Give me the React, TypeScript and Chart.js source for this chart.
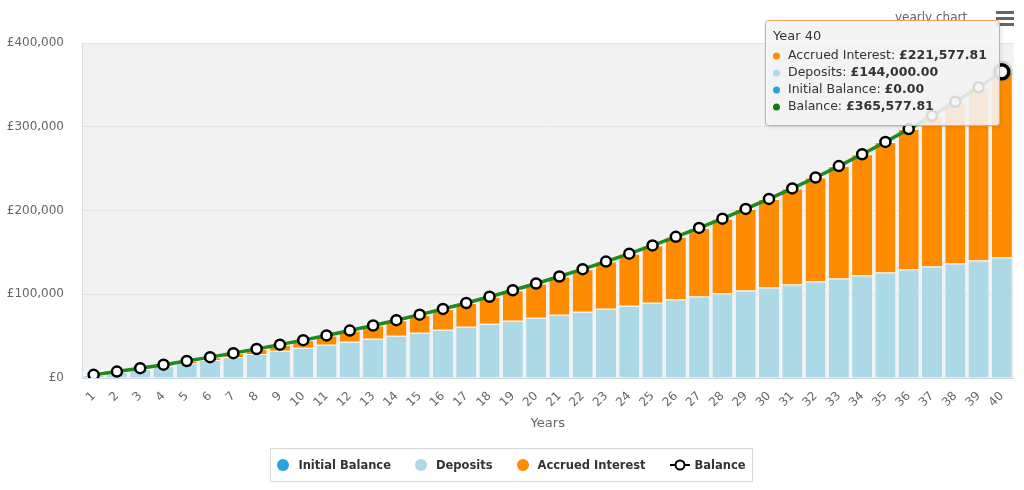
import { useEffect, useRef } from "react";
import { Chart, registerables } from "chart.js";

Chart.register(...registerables);

const YEARS = [
  "1", "2", "3", "4", "5", "6", "7", "8", "9", "10",
  "11", "12", "13", "14", "15", "16", "17", "18", "19", "20",
  "21", "22", "23", "24", "25", "26", "27", "28", "29", "30",
  "31", "32", "33", "34", "35", "36", "37", "38", "39", "40",
];

const INITIAL_BALANCE = [
  0, 0, 0, 0, 0, 0, 0, 0, 0, 0,
  0, 0, 0, 0, 0, 0, 0, 0, 0, 0,
  0, 0, 0, 0, 0, 0, 0, 0, 0, 0,
  0, 0, 0, 0, 0, 0, 0, 0, 0, 0,
];

const DEPOSITS = [
  3600, 7200, 10800, 14400, 18000, 21600, 25200, 28800, 32400, 36000,
  39600, 43200, 46800, 50400, 54000, 57600, 61200, 64800, 68400, 72000,
  75600, 79200, 82800, 86400, 90000, 93600, 97200, 100800, 104400, 108000,
  111600, 115200, 118800, 122400, 126000, 129600, 133200, 136800, 140400, 144000,
];

const BALANCE = [
  3750, 7650, 11710, 15940, 20340, 24920, 29690, 34660, 39830, 45210,
  50820, 56650, 62720, 69040, 75620, 82470, 89600, 97030, 104760, 112810,
  121190, 129910, 138990, 148440, 158280, 168520, 179190, 190290, 201850, 213880,
  226410, 239450, 253030, 267170, 281880, 297200, 313150, 329760, 347050, 365577.81,
];

const Y_TICKS = [0, 100000, 200000, 300000, 400000];

// year shown in the tooltip
const HOVER_INDEX = 39;

const ACCRUED = BALANCE.map((b, i) => b - DEPOSITS[i] - INITIAL_BALANCE[i]);

const FONT = "'DejaVu Sans', sans-serif";
const COL_INITIAL = "#27a3dd";
const COL_DEPOSITS = "#add8e6";
const COL_INTEREST = "#ff8c00";
const COL_LINE = "#1f8a1f";

const money = (v: number, dec = 0) =>
  "£" + v.toLocaleString("en-GB", { minimumFractionDigits: dec, maximumFractionDigits: dec });

const decorPlugin = {
  id: "decor",
  beforeDraw(chart: any) {
    const { ctx, chartArea: a } = chart;
    ctx.save();
    ctx.fillStyle = "#f2f2f2";
    ctx.fillRect(a.left, a.top, a.right - a.left, a.bottom - a.top);
    ctx.restore();
  },
  beforeDatasetDraw(chart: any, args: any) {
    if (args.meta.type !== "line") return;
    const pt = args.meta.data[HOVER_INDEX];
    if (!pt) return;
    const { ctx } = chart;
    ctx.save();
    ctx.fillStyle = "rgba(110,150,110,0.28)";
    ctx.beginPath();
    ctx.arc(pt.x, pt.y, 11, 0, Math.PI * 2);
    ctx.fill();
    ctx.restore();
  },
  afterDraw(chart: any) {
    const { ctx } = chart;
    ctx.save();

    // export menu
    ctx.fillStyle = "#666";
    ctx.font = `12px ${FONT}`;
    ctx.textBaseline = "middle";
    ctx.fillText("yearly chart", 895, 18);
    ctx.fillRect(996, 11, 18, 3);
    ctx.fillRect(996, 17, 18, 3);
    ctx.fillRect(996, 23, 18, 3);

    // tooltip
    const x = 765.5, y = 20.5, w = 234, h = 105;
    ctx.shadowColor = "rgba(0,0,0,0.15)";
    ctx.shadowBlur = 4;
    ctx.shadowOffsetX = 1;
    ctx.shadowOffsetY = 1;
    ctx.fillStyle = "rgba(248,248,248,0.87)";
    ctx.beginPath();
    ctx.roundRect(x, y, w, h, 3);
    ctx.fill();
    ctx.shadowColor = "transparent";
    ctx.strokeStyle = "#f4a55a";
    ctx.lineWidth = 1;
    ctx.stroke();

    ctx.fillStyle = "#333";
    ctx.font = `13px ${FONT}`;
    ctx.fillText("Year " + YEARS[HOVER_INDEX], 773, 37);

    const rows = [
      { color: COL_INTEREST, label: "Accrued Interest", value: ACCRUED[HOVER_INDEX] },
      { color: COL_DEPOSITS, label: "Deposits", value: DEPOSITS[HOVER_INDEX] },
      { color: COL_INITIAL, label: "Initial Balance", value: INITIAL_BALANCE[HOVER_INDEX] },
      { color: "#0d7d0d", label: "Balance", value: BALANCE[HOVER_INDEX] },
    ];
    rows.forEach((r, i) => {
      const ry = 56 + i * 17;
      ctx.fillStyle = r.color;
      ctx.beginPath();
      ctx.arc(776.5, ry, 3.5, 0, Math.PI * 2);
      ctx.fill();
      ctx.fillStyle = "#333";
      ctx.font = `12.5px ${FONT}`;
      const lbl = r.label + ": ";
      ctx.fillText(lbl, 788, ry);
      const lw = ctx.measureText(lbl).width;
      ctx.font = `bold 12.5px ${FONT}`;
      ctx.fillText(money(r.value, 2), 788 + lw, ry);
    });

    ctx.restore();
  },
};

function LegendItem({ color, label }: { color: string; label: string }) {
  return (
    <div style={{ display: "flex", alignItems: "center" }}>
      <span
        style={{
          width: 12,
          height: 12,
          borderRadius: "50%",
          background: color,
          marginRight: 9,
          display: "inline-block",
        }}
      />
      <span>{label}</span>
    </div>
  );
}

export default function App() {
  const canvasRef = useRef<HTMLCanvasElement>(null);
  const chartRef = useRef<Chart | null>(null);

  useEffect(() => {
    if (!canvasRef.current) return;
    const ctx = canvasRef.current.getContext("2d");
    if (!ctx) return;

    const radii = YEARS.map((_, i) => (i === HOVER_INDEX ? 7 : 5));
    const borders = YEARS.map((_, i) => (i === HOVER_INDEX ? 3.5 : 2.5));

    chartRef.current = new Chart(ctx, {
      type: "bar",
      data: {
        labels: YEARS,
        datasets: [
          {
            type: "line",
            label: "Balance",
            data: BALANCE,
            borderColor: COL_LINE,
            borderWidth: 3.5,
            pointRadius: radii,
            pointBorderWidth: borders,
            pointBackgroundColor: "#fff",
            pointBorderColor: "#000",
            order: 0,
            stack: "balance",
          } as any,
          {
            label: "Initial Balance",
            data: INITIAL_BALANCE,
            backgroundColor: COL_INITIAL,
            borderWidth: 0,
            order: 1,
            stack: "bars",
          },
          {
            label: "Deposits",
            data: DEPOSITS,
            backgroundColor: COL_DEPOSITS,
            borderColor: "#fff",
            borderWidth: { top: 1, left: 0, right: 0, bottom: 0 },
            order: 1,
            stack: "bars",
          },
          {
            label: "Accrued Interest",
            data: ACCRUED,
            backgroundColor: COL_INTEREST,
            borderColor: "#fff",
            borderWidth: { top: 1, left: 0, right: 0, bottom: 0 },
            order: 1,
            stack: "bars",
          },
        ],
      },
      options: {
        animation: false,
        responsive: true,
        maintainAspectRatio: false,
        events: [],
        layout: { padding: { left: 0, right: 8.5, top: 43, bottom: 58 } },
        datasets: { bar: { barPercentage: 0.86, categoryPercentage: 1 } },
        plugins: {
          legend: { display: false },
          tooltip: { enabled: false },
        },
        scales: {
          x: {
            stacked: true,
            grid: { display: false },
            border: { color: "#ccd6eb" },
            ticks: {
              autoSkip: false,
              minRotation: 45,
              maxRotation: 45,
              padding: 3,
              color: "#666",
              font: { family: FONT, size: 12 },
            },
            title: {
              display: true,
              text: "Years",
              color: "#666",
              padding: { top: 0, bottom: 1 },
              font: { family: FONT, size: 13 },
            },
            afterFit: (s: any) => {
              s.height = 54;
            },
          },
          y: {
            stacked: true,
            min: Y_TICKS[0],
            max: Y_TICKS[Y_TICKS.length - 1],
            afterBuildTicks: (s: any) => {
              s.ticks = Y_TICKS.map((v) => ({ value: v }));
            },
            grid: { color: "#e4e4e4", drawTicks: false },
            border: { color: "#dcdcdc" },
            ticks: {
              padding: 18,
              color: "#666",
              font: { family: FONT, size: 12 },
              callback: (v: any) => money(Number(v)),
            },
            afterFit: (s: any) => {
              s.width = 82;
            },
          },
        },
      },
      plugins: [decorPlugin],
    });

    return () => {
      if (chartRef.current) {
        chartRef.current.destroy();
        chartRef.current = null;
      }
    };
  }, []);

  return (
    <div
      style={{
        position: "fixed",
        left: 0,
        top: 0,
        width: 1024,
        height: 490,
        background: "#fff",
        fontFamily: FONT,
      }}
    >
      <canvas ref={canvasRef} />
      <div
        style={{
          position: "absolute",
          left: 270,
          top: 448,
          width: 483,
          height: 34,
          boxSizing: "border-box",
          border: "1px solid #d8d8d8",
          display: "flex",
          alignItems: "center",
          justifyContent: "center",
          gap: 24,
          fontSize: 11.5,
          fontWeight: "bold",
          color: "#333",
        }}
      >
        <LegendItem color={COL_INITIAL} label="Initial Balance" />
        <LegendItem color={COL_DEPOSITS} label="Deposits" />
        <LegendItem color={COL_INTEREST} label="Accrued Interest" />
        <div style={{ display: "flex", alignItems: "center" }}>
          <svg width={20} height={12} style={{ marginRight: 5 }}>
            <line x1={0} y1={6} x2={20} y2={6} stroke="#000" strokeWidth={2} />
            <circle cx={10} cy={6} r={4.5} fill="#fff" stroke="#000" strokeWidth={2} />
          </svg>
          <span>Balance</span>
        </div>
      </div>
    </div>
  );
}
